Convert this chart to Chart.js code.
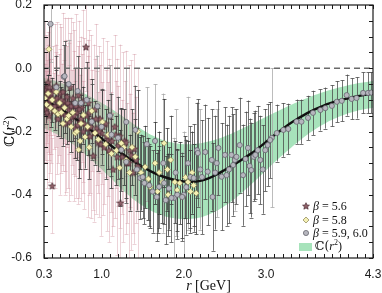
<!DOCTYPE html>
<html><head><meta charset="utf-8">
<script src="https://cdn.jsdelivr.net/npm/chart.js@4.4.0/dist/chart.umd.min.js"></script>
<style>html,body{margin:0;padding:0;background:#fff;}canvas{display:block;}</style>
</head><body>
<canvas id="c" width="382" height="293"></canvas>
<script>
// ---------- axis ticks ----------
const xTickVals = [0.3, 1.0, 2.0, 3.0, 4.3];
const yTickVals = [-0.6, -0.4, -0.2, 0.0, 0.2];
const xMin = 0.3, xMax = 4.3, yMin = -0.6, yMax = 0.2;

// ---------- fitted curve C(r^2) ----------
const curveR = [0.3,0.4,0.5,0.6,0.7,0.8,0.9,1.0,1.1,1.2,1.3,1.4,1.5,1.6,1.7,1.8,1.9,2.0,2.1,2.2,2.3,2.4,2.5,2.6,2.7,2.8,2.9,3.0,3.1,3.2,3.3,3.4,3.5,3.6,3.7,3.8,3.9,4.0,4.1,4.2,4.3];
const curveV = [-0.100,-0.113,-0.128,-0.145,-0.163,-0.182,-0.202,-0.222,-0.242,-0.261,-0.279,-0.296,-0.312,-0.326,-0.338,-0.347,-0.354,-0.358,-0.359,-0.356,-0.348,-0.336,-0.321,-0.306,-0.290,-0.273,-0.254,-0.233,-0.212,-0.192,-0.173,-0.157,-0.142,-0.129,-0.118,-0.109,-0.101,-0.095,-0.089,-0.084,-0.080];

// ---------- uncertainty band ----------
const bandR  = [0.3,0.5,0.7,0.9,1.1,1.3,1.5,1.7,1.9,2.1,2.3,2.5,2.7,2.9,3.1,3.3,3.5,3.7,3.9,4.1,4.3];
const bandHi = [-0.030,-0.045,-0.068,-0.095,-0.125,-0.160,-0.195,-0.222,-0.237,-0.240,-0.232,-0.215,-0.192,-0.167,-0.141,-0.116,-0.094,-0.075,-0.060,-0.048,-0.040];
const bandLo = [-0.190,-0.215,-0.250,-0.295,-0.345,-0.395,-0.435,-0.462,-0.475,-0.476,-0.463,-0.435,-0.395,-0.348,-0.298,-0.252,-0.210,-0.177,-0.152,-0.135,-0.125];

// ---------- beta = 5.6 (stars) ----------
const starR = [0.31,0.32,0.33,0.34,0.35,0.36,0.37,0.38,0.40,0.41,0.42,0.44,0.45,0.47,0.48,0.50,0.52,0.54,0.56,0.58,0.60,0.62,0.64,0.66,0.68,0.70,0.72,0.74,0.76,0.78,0.81,0.82,0.84,0.86,0.88,0.90,0.92,0.94,0.96,0.98,1.00,1.03,1.05,1.08,1.10,1.12,1.14,1.17,1.20,1.23,1.25,1.28,1.31,1.34,1.38,1.42,
  0.305,0.315,0.325,0.335,0.345,0.355,0.365,0.375,0.39,0.43,0.46,0.49,0.51,0.53,0.55,0.57,0.59,0.61,0.63,0.65,0.67,0.69,0.71,0.73,0.75,0.77,0.79,0.83,0.85,0.87,0.91,0.93,0.97,0.99,1.02,1.06,1.09,1.13,1.16,1.19,1.22,1.26,1.30,1.33,1.36,1.40,1.44];
const starV = [-0.085,-0.130,-0.060,-0.105,-0.045,-0.150,-0.090,-0.120,-0.372,-0.070,-0.135,-0.100,-0.055,-0.160,-0.115,-0.080,-0.145,-0.105,-0.175,-0.090,-0.130,-0.060,-0.155,-0.115,-0.190,-0.140,-0.085,-0.170,-0.125,-0.200,0.067,-0.150,-0.110,-0.215,-0.165,-0.277,-0.130,-0.190,-0.235,-0.160,-0.205,-0.250,-0.175,-0.225,-0.150,-0.265,-0.320,-0.210,-0.245,-0.426,-0.280,-0.230,-0.300,-0.260,-0.330,-0.290,
  -0.115,-0.070,-0.095,-0.140,-0.075,-0.110,-0.060,-0.100,-0.080,-0.120,-0.095,-0.130,-0.100,-0.075,-0.120,-0.150,-0.110,-0.170,-0.120,-0.095,-0.150,-0.120,-0.180,-0.130,-0.160,-0.105,-0.175,-0.190,-0.140,-0.185,-0.205,-0.160,-0.200,-0.240,-0.185,-0.215,-0.260,-0.230,-0.185,-0.280,-0.215,-0.250,-0.235,-0.300,-0.275,-0.255,-0.310];
const starE = [0.10,0.12,0.11,0.13,0.12,0.14,0.12,0.15,0.15,0.14,0.12,0.15,0.13,0.14,0.16,0.14,0.16,0.13,0.15,0.16,0.14,0.17,0.15,0.17,0.15,0.14,0.17,0.15,0.17,0.16,0.14,0.17,0.15,0.18,0.16,0.17,0.16,0.18,0.16,0.17,0.16,0.18,0.17,0.18,0.16,0.19,0.18,0.17,0.19,0.19,0.18,0.19,0.19,0.18,0.19,0.20,
  0.18,0.22,0.20,0.24,0.19,0.25,0.21,0.23,0.22,0.26,0.24,0.27,0.23,0.25,0.28,0.24,0.27,0.25,0.28,0.24,0.27,0.29,0.25,0.28,0.26,0.29,0.27,0.28,0.26,0.29,0.28,0.30,0.27,0.29,0.28,0.30,0.29,0.30,0.29,0.31,0.29,0.30,0.29,0.31,0.30,0.30,0.31];

// ---------- beta = 5.8 (diamonds) ----------
const diaR = [0.31,0.33,0.35,0.36,0.38,0.40,0.43,0.45,0.47,0.49,0.51,0.53,0.55,0.58,0.60,0.63,0.65,0.68,0.70,0.72,0.74,0.75,0.78,0.80,0.83,0.85,0.88,0.92,0.96,1.01,1.05,1.08,1.12,1.18,1.22,1.24,1.27,1.30,1.34,1.37,1.41,1.44,1.48,1.53,1.57,1.59,1.65,1.68,1.70,1.74,1.76,1.80,1.81,1.84,1.89,1.92,1.95,1.98,2.02,2.05,2.08,2.10,2.12,2.15];
const diaV = [-0.095,-0.115,-0.080,0.060,-0.125,-0.100,-0.135,-0.075,-0.145,-0.110,-0.140,-0.175,-0.125,-0.160,-0.150,-0.185,-0.140,-0.205,-0.200,-0.258,-0.230,-0.175,-0.148,-0.217,-0.185,-0.250,-0.135,-0.205,-0.225,-0.170,-0.240,-0.210,-0.270,-0.260,-0.315,-0.237,-0.250,-0.290,-0.330,-0.250,-0.280,-0.200,-0.330,-0.312,-0.350,-0.375,-0.300,-0.390,-0.330,-0.360,-0.237,-0.320,-0.400,-0.290,-0.360,-0.385,-0.363,-0.407,-0.345,-0.360,-0.390,-0.330,-0.370,-0.395];
const diaE = [0.05,0.06,0.06,0.08,0.06,0.07,0.06,0.07,0.07,0.07,0.08,0.07,0.08,0.08,0.08,0.08,0.09,0.08,0.09,0.09,0.09,0.09,0.09,0.10,0.09,0.10,0.10,0.10,0.10,0.10,0.11,0.11,0.11,0.11,0.12,0.11,0.12,0.12,0.12,0.12,0.12,0.13,0.12,0.13,0.13,0.13,0.13,0.13,0.13,0.13,0.14,0.13,0.13,0.14,0.13,0.13,0.13,0.13,0.13,0.13,0.13,0.13,0.13,0.13];

// ---------- beta = 5.9, 6.0 (circles) ----------
const circR = [0.45,0.54,0.55,0.68,0.71,0.75,0.82,0.88,1.00,1.12,1.20,1.24,1.30,1.41,1.43,1.47,1.50,1.52,1.58,1.62,1.67,1.70,1.76,1.78,1.82,1.85,1.92,1.98,2.03,2.08,2.12,2.16,2.17,2.22,2.26,2.29,2.34,2.35,2.38,2.42,2.46,2.50,2.52,2.55,2.58,2.60,2.64,2.68,2.72,2.75,2.78,2.80,2.82,2.85,2.87,2.90,2.93,2.96,2.99,3.02,3.05,3.13,3.21,3.27,3.37,3.43,3.51,3.57,3.66,3.72,3.80,3.86,3.92,3.98,4.04,4.10,4.18,4.24,4.28];
const circV = [-0.060,-0.027,-0.025,-0.110,-0.072,-0.110,-0.100,-0.169,-0.185,-0.210,-0.220,-0.258,-0.296,-0.195,-0.320,-0.347,-0.344,-0.363,-0.370,-0.390,-0.407,-0.375,-0.363,-0.417,-0.380,-0.410,-0.400,-0.407,-0.376,-0.344,-0.347,-0.259,-0.268,-0.344,-0.265,-0.327,-0.290,-0.407,-0.330,-0.252,-0.343,-0.274,-0.338,-0.320,-0.274,-0.306,-0.280,-0.243,-0.338,-0.287,-0.252,-0.309,-0.322,-0.280,-0.274,-0.259,-0.290,-0.320,-0.259,-0.243,-0.227,-0.205,-0.195,-0.192,-0.169,-0.169,-0.157,-0.141,-0.132,-0.126,-0.119,-0.106,-0.103,-0.085,-0.097,-0.094,-0.078,-0.078,-0.077];
const circE = [0.10,0.10,0.11,0.11,0.11,0.11,0.12,0.12,0.12,0.13,0.13,0.13,0.13,0.14,0.13,0.13,0.13,0.13,0.13,0.13,0.14,0.13,0.13,0.14,0.13,0.14,0.14,0.14,0.15,0.16,0.17,0.15,0.17,0.18,0.15,0.17,0.16,0.17,0.18,0.15,0.17,0.15,0.16,0.17,0.15,0.16,0.15,0.15,0.16,0.15,0.15,0.15,0.15,0.14,0.14,0.14,0.14,0.14,0.13,0.13,0.12,0.09,0.085,0.08,0.07,0.07,0.07,0.07,0.065,0.065,0.065,0.065,0.065,0.065,0.065,0.065,0.065,0.065,0.065];
const circ2R = [0.38,0.60,0.95,1.10,1.30,1.55,1.65,1.75,1.88,1.90,2.00,2.05,2.20,2.40,2.62,3.07];
const circ2V = [0.140,-0.050,-0.120,-0.150,-0.170,-0.240,-0.230,-0.300,-0.410,-0.330,-0.400,-0.300,-0.320,-0.300,-0.290,-0.220];
const circ2E = [0.12,0.14,0.16,0.16,0.17,0.18,0.18,0.22,0.19,0.20,0.20,0.21,0.19,0.17,0.16,0.22];

const pts = (R, V) => R.map((r, i) => ({x: r, y: V[i]}));

function makeStar(size) {
  const c = document.createElement('canvas');
  c.width = size; c.height = size;
  const g = c.getContext('2d');
  const cx = size / 2, cy = size / 2 + 0.3, ro = size / 2 - 0.4, ri = ro * 0.45;
  g.beginPath();
  for (let k = 0; k < 10; k++) {
    const a = -Math.PI / 2 + k * Math.PI / 5;
    const rr = k % 2 === 0 ? ro : ri;
    g.lineTo(cx + rr * Math.cos(a), cy + rr * Math.sin(a));
  }
  g.closePath();
  g.fillStyle = '#8f6068'; g.fill();
  g.lineWidth = 0.7; g.strokeStyle = '#4a2a32'; g.stroke();
  return c;
}
const starImg = makeStar(8);

const GREEN = 'rgba(80,200,120,0.5)';

const datasets = [
  {type:'line', label:'bandLo', data: pts(bandR, bandLo), borderWidth:0, pointRadius:0, tension:0.4, fill:false, order:8},
  {type:'line', label:'bandHi', data: pts(bandR, bandHi), borderWidth:0, pointRadius:0, tension:0.4, fill:'-1', backgroundColor: GREEN, order:7},
  {type:'line', label:'zero', data: [{x:xMin,y:0},{x:xMax,y:0}], borderColor:'#6a6a6a', borderWidth:1.3, borderDash:[6,4], pointRadius:0, order:6},
  {type:'line', label:'curve', data: pts(curveR, curveV), borderColor:'#111', borderWidth:2.4, pointRadius:0, cubicInterpolationMode:'monotone', order:5},
  {type:'scatter', label:'b56', data: pts(starR, starV), errors: starE, errColor:'rgba(205,140,152,0.38)', pointStyle: starImg, order:4},
  {type:'scatter', label:'b59', data: pts(circ2R, circ2V), errors: circ2E, errColor:'rgba(165,165,165,0.75)', pointStyle:'circle', pointRadius:2.6, backgroundColor:'#b6b6be', borderColor:'#5a5a64', borderWidth:0.7, order:3},
  {type:'scatter', label:'b58', data: pts(diaR, diaV), errors: diaE, errColor:'rgba(50,50,50,0.75)', pointStyle:'rectRot', pointRadius:3, backgroundColor:'#f4f0b4', borderColor:'#8a8250', borderWidth:0.7, order:2},
  {type:'scatter', label:'b60', data: pts(circR, circV), errors: circE, errColor:'rgba(70,70,70,0.75)', pointStyle:'circle', pointRadius:2.6, backgroundColor:'#b6b6be', borderColor:'#5a5a64', borderWidth:0.7, order:1}
];

const errorBars = {
  id: 'errorBars',
  afterDatasetDraw(chart, args) {
    if (args.index !== 1) return;
    const xs = chart.scales.x, ys = chart.scales.y, ctx = chart.ctx, a = chart.chartArea;
    ctx.save();
    ctx.beginPath(); ctx.rect(a.left, a.top, a.right - a.left, a.bottom - a.top); ctx.clip();
    const drawOrder = ['b56', 'b59', 'b58', 'b60'];
    for (const lab of drawOrder) {
      const ds = chart.data.datasets.find(d => d.label === lab);
      ctx.strokeStyle = ds.errColor; ctx.lineWidth = 1;
      ds.data.forEach((p, i) => {
        const e = ds.errors[i];
        const x = Math.round(xs.getPixelForValue(p.x)) + 0.5;
        const y1 = ys.getPixelForValue(p.y + e), y2 = ys.getPixelForValue(p.y - e);
        ctx.beginPath();
        ctx.moveTo(x, y1); ctx.lineTo(x, y2);
        ctx.moveTo(x - 2, Math.round(y1) + 0.5); ctx.lineTo(x + 2, Math.round(y1) + 0.5);
        ctx.moveTo(x - 2, Math.round(y2) + 0.5); ctx.lineTo(x + 2, Math.round(y2) + 0.5);
        ctx.stroke();
      });
    }
    ctx.restore();
  }
};

function drawRich(ctx, parts, x, y, align) {
  let w = 0;
  parts.forEach(p => { ctx.font = p.f; w += ctx.measureText(p.t).width; });
  let cx = align === 'center' ? x - w / 2 : x;
  parts.forEach(p => {
    ctx.font = p.f;
    ctx.fillText(p.t, cx, y + (p.dy || 0));
    cx += ctx.measureText(p.t).width;
  });
}

const SERIF = '"Liberation Serif", "DejaVu Serif", serif';

const decor = {
  id: 'decor',
  afterDraw(chart) {
    const ctx = chart.ctx, a = chart.chartArea, xs = chart.scales.x, ys = chart.scales.y;
    ctx.save();
    ctx.strokeStyle = '#1a1a1a'; ctx.lineWidth = 1.2;
    ctx.strokeRect(a.left, a.top, a.right - a.left, a.bottom - a.top);
    ctx.lineWidth = 1;
    ctx.beginPath();
    for (let i = Math.round(xMin * 10); i <= Math.round(xMax * 10); i++) {
      const x = Math.round(xs.getPixelForValue(i / 10)) + 0.5;
      ctx.moveTo(x, a.bottom); ctx.lineTo(x, a.bottom - 4);
      ctx.moveTo(x, a.top); ctx.lineTo(x, a.top + 4);
    }
    for (let i = Math.round(yMin * 20); i <= Math.round(yMax * 20); i++) {
      const y = Math.round(ys.getPixelForValue(i / 20)) + 0.5;
      ctx.moveTo(a.left, y); ctx.lineTo(a.left + 4, y);
      ctx.moveTo(a.right, y); ctx.lineTo(a.right - 4, y);
    }
    ctx.stroke();

    ctx.fillStyle = '#111';
    ctx.textBaseline = 'alphabetic';
    drawRich(ctx, [{t:'r', f:'italic 14px ' + SERIF}, {t:' [GeV]', f:'14px ' + SERIF}], (a.left + a.right) / 2, 290, 'center');
    ctx.save();
    ctx.translate(14, (a.top + a.bottom) / 2);
    ctx.rotate(-Math.PI / 2);
    drawRich(ctx, [{t:'\u2102(', f:'14px "DejaVu Serif", serif'}, {t:'r', f:'italic 14px ' + SERIF}, {t:'2', f:'9px ' + SERIF, dy:-5}, {t:')', f:'14px ' + SERIF}], 0, 0, 'center');
    ctx.restore();

    const lx = 306, tx = 313;
    const rows = [206, 220, 233];
    ctx.textBaseline = 'middle';
    ctx.drawImage(starImg, lx - starImg.width / 2, rows[0] - starImg.height / 2);
    ctx.beginPath();
    ctx.moveTo(lx, rows[1] - 3); ctx.lineTo(lx + 3, rows[1]); ctx.lineTo(lx, rows[1] + 3); ctx.lineTo(lx - 3, rows[1]); ctx.closePath();
    ctx.fillStyle = '#f4f0b4'; ctx.fill(); ctx.strokeStyle = '#8a8250'; ctx.lineWidth = 0.7; ctx.stroke();
    ctx.beginPath(); ctx.arc(lx, rows[2], 2.6, 0, Math.PI * 2);
    ctx.fillStyle = '#b6b6be'; ctx.fill(); ctx.strokeStyle = '#5a5a64'; ctx.stroke();
    ctx.fillStyle = GREEN; ctx.fillRect(299, 243, 13, 8);
    ctx.fillStyle = '#111';
    const labels = ['5.6', '5.8', '5.9, 6.0'];
    labels.forEach((l, i) => {
      drawRich(ctx, [{t:'\u03B2', f:'italic 12px ' + SERIF}, {t:' = ' + l, f:'12px ' + SERIF}], tx, rows[i] + 0.5, 'left');
    });
    drawRich(ctx, [{t:'\u2102(', f:'12px "DejaVu Serif", serif'}, {t:'r', f:'italic 12px ' + SERIF}, {t:'2', f:'8px ' + SERIF, dy:-4}, {t:')', f:'12px ' + SERIF}], 315, 247, 'left');
    ctx.restore();
  }
};

const fmt = v => (Math.abs(v) < 1e-9 ? 0 : v).toFixed(1);
const TICKFONT = {family: '"Liberation Sans", Arial, sans-serif', size: 12};

new Chart(document.getElementById('c'), {
  data: {datasets},
  options: {
    responsive: false, animation: false, devicePixelRatio: 1,
    layout: {padding: {left: 0, right: 9, top: 5, bottom: 0}},
    plugins: {legend: {display: false}, tooltip: {enabled: false}},
    scales: {
      x: {type: 'linear', min: xMin, max: xMax,
          afterBuildTicks: s => { s.ticks = xTickVals.map(v => ({value: v})); },
          afterFit: s => { s.height = 35; s.paddingLeft = 0; s.paddingRight = 0; },
          ticks: {callback: v => fmt(v), font: TICKFONT, color: '#1a1a1a', maxRotation: 0, autoSkip: false, padding: 1},
          grid: {display: false}, border: {display: false}},
      y: {type: 'linear', min: yMin, max: yMax,
          afterBuildTicks: s => { s.ticks = yTickVals.map(v => ({value: v})); },
          afterFit: s => { s.width = 44; s.paddingTop = 0; s.paddingBottom = 0; },
          ticks: {callback: v => fmt(v), font: TICKFONT, color: '#1a1a1a', autoSkip: false, padding: 4},
          grid: {display: false}, border: {display: false}}
    }
  },
  plugins: [errorBars, decor]
});
</script></body></html>
